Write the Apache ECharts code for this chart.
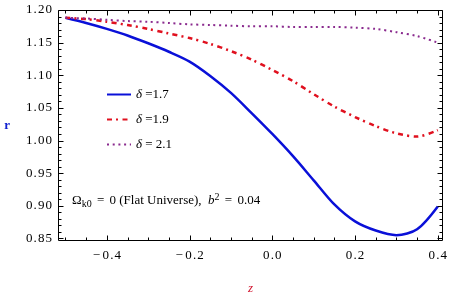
<!DOCTYPE html>
<html>
<head>
<meta charset="utf-8">
<script src="https://cdn.jsdelivr.net/npm/echarts@6/dist/echarts.min.js"></script>
<style>html,body{margin:0;padding:0;background:#fff}#c{width:450px;height:300px}</style>
</head>
<body>
<div id="c"></div>
<script>
// ---- data ----
const zValues = [-0.5, -0.45, -0.4, -0.35, -0.3, -0.25, -0.2, -0.15, -0.1, -0.05, 0.0, 0.05, 0.1, 0.15, 0.2, 0.25, 0.3, 0.35, 0.4];
const r17 = [1.188, 1.180, 1.171, 1.161, 1.149, 1.136, 1.121, 1.099, 1.073, 1.042, 1.010, 0.976, 0.939, 0.902, 0.876, 0.862, 0.855, 0.864, 0.899];
const r19 = [1.188, 1.186, 1.182, 1.177, 1.171, 1.164, 1.157, 1.148, 1.137, 1.124, 1.108, 1.091, 1.071, 1.052, 1.036, 1.022, 1.011, 1.006, 1.016];
const r21 = [1.188, 1.187, 1.185, 1.183, 1.182, 1.180, 1.178, 1.177, 1.176, 1.175, 1.175, 1.174, 1.174, 1.174, 1.173, 1.171, 1.166, 1.160, 1.150];
const seriesNames = ['δ =1.7', 'δ =1.9', 'δ = 2.1'];

const xMajorTicks = [-0.4, -0.2, 0.0, 0.2, 0.4];
const xMinorTicks = [-0.5, -0.45, -0.35, -0.3, -0.25, -0.15, -0.1, -0.05, 0.05, 0.1, 0.15, 0.25, 0.3, 0.35];
const yMajorTicks = [0.85, 0.90, 0.95, 1.00, 1.05, 1.10, 1.15, 1.20];
const yMinorTicks = [0.86, 0.87, 0.88, 0.89, 0.91, 0.92, 0.93, 0.94, 0.96, 0.97, 0.98, 0.99,
                     1.01, 1.02, 1.03, 1.04, 1.06, 1.07, 1.08, 1.09, 1.11, 1.12, 1.13, 1.14,
                     1.16, 1.17, 1.18, 1.19];

const X_MIN = -0.518, X_MAX = 0.413, Y_MIN = 0.846, Y_MAX = 1.2;
const SERIF = '"Liberation Serif", "DejaVu Serif", serif';
const HS = '\u200A', TS = '\u2009';

function pairs(ys) { return zValues.map((z, i) => [z, ys[i]]); }
function spaced(s) { return s.split('').join(HS).replace('-' + HS, '−' + TS); }

// frame + inward ticks drawn through the axes' own scales (api.coord)
function renderFrame(params, api) {
  const children = [];
  const st = { stroke: '#000', lineWidth: 1, fill: null };
  const c = (x, y) => api.coord([x, y]);
  const bl = c(X_MIN, Y_MIN), tr = c(X_MAX, Y_MAX);
  const L = Math.round(bl[0]) + 0.5, B = Math.round(bl[1]) - 0.5, R = Math.round(tr[0]) - 0.5, T = Math.round(tr[1]) + 0.5;
  const seg = (x1, y1, x2, y2) => children.push({ type: 'line', shape: { x1: x1, y1: y1, x2: x2, y2: y2 }, style: st });
  seg(L, T, R, T); seg(R, T, R, B); seg(R, B, L, B); seg(L, B, L, T);
  const xt = (vals, len) => vals.forEach(v => {
    const x = Math.round(c(v, Y_MIN)[0]) + 0.5; seg(x, B, x, B - len); seg(x, T, x, T + len);
  });
  const yt = (vals, len) => vals.forEach(v => {
    const y = Math.round(c(X_MIN, v)[1]) + 0.5; seg(L, y, L + len, y); seg(R, y, R - len, y);
  });
  xt(xMajorTicks, 5); xt(xMinorTicks, 3); yt(yMajorTicks, 5); yt(yMinorTicks, 3);
  return { type: 'group', children: children };
}

const chart = echarts.init(document.getElementById('c'));
chart.setOption({
  animation: false,
  grid: { left: 58, top: 10, right: 5, bottom: 51, containLabel: false },
  xAxis: {
    type: 'value', min: X_MIN, max: X_MAX,
    axisLine: { show: false }, axisTick: { show: false }, splitLine: { show: false },
    axisLabel: { customValues: xMajorTicks, margin: 8, color: '#000', fontSize: 13, fontFamily: SERIF,
      formatter: v => spaced(v.toFixed(1)) },
    name: 'z', nameLocation: 'middle', nameGap: 41,
    nameTextStyle: { color: '#d0102a', fontStyle: 'italic', fontSize: 13, fontFamily: SERIF }
  },
  yAxis: {
    type: 'value', min: Y_MIN, max: Y_MAX,
    axisLine: { show: false }, axisTick: { show: false }, splitLine: { show: false },
    axisLabel: { customValues: yMajorTicks, margin: 6, color: '#000', fontSize: 13, fontFamily: SERIF,
      formatter: v => spaced(v.toFixed(2)) },
    name: 'r', nameLocation: 'middle', nameGap: 48, nameRotate: 0,
    nameTextStyle: { color: '#1020d0', fontWeight: 'bold', fontSize: 13, fontFamily: SERIF }
  },
  legend: {
    orient: 'vertical', left: 106, top: 88, padding: 0,
    itemWidth: 24, itemHeight: 12, itemGap: 12,
    data: seriesNames,
    itemStyle: { opacity: 0 },
    formatter: name => '{i|δ}{n|' + name.slice(1) + '}',
    textStyle: {
      rich: {
        i: { fontStyle: 'italic', fontSize: 13, fontFamily: SERIF, color: '#000' },
        n: { fontSize: 13, fontFamily: SERIF, color: '#000' }
      }
    }
  },
  graphic: [{
    type: 'text', left: 72, top: 192,
    style: {
      text: '{t|Ω}{s|k0}{t| }{e|=}{t| 0 (Flat Universe),  }{it|b}{p|2}{t| }{e|=}{t| 0.04}',
      rich: {
        t: { fontSize: 13, fontFamily: SERIF, fill: '#000', lineHeight: 17, verticalAlign: 'middle' },
        e: { fontSize: 13, fontFamily: SERIF, fill: '#000', lineHeight: 17, verticalAlign: 'middle', padding: [0, 2, 0, 2] },
        it: { fontSize: 13, fontFamily: SERIF, fontStyle: 'italic', fill: '#000', lineHeight: 17, verticalAlign: 'middle' },
        s: { fontSize: 10, fontFamily: SERIF, fill: '#000', lineHeight: 11, verticalAlign: 'bottom' },
        p: { fontSize: 10, fontFamily: SERIF, fill: '#000', lineHeight: 11, verticalAlign: 'top' }
      }
    }
  }],
  series: [
    {
      name: seriesNames[0], type: 'line', data: pairs(r17), smooth: 0.3, symbol: 'none',
      lineStyle: { color: '#0a10d8', width: 2.5 }, itemStyle: { color: '#0a10d8' }
    },
    {
      name: seriesNames[1], type: 'line', data: pairs(r19), smooth: 0.3, symbol: 'none',
      lineStyle: { color: '#e0101e', width: 2.5, type: [5, 4, 2, 4.5], cap: 'butt' }, itemStyle: { color: '#e0101e' }
    },
    {
      name: seriesNames[2], type: 'line', data: pairs(r21), smooth: 0.3, symbol: 'none',
      lineStyle: { color: '#8a2a8e', width: 2, type: [2, 3.7], cap: 'butt' }, itemStyle: { color: '#8a2a8e' }
    },
    {
      name: 'frame', type: 'custom', data: [[X_MIN, Y_MIN]], renderItem: renderFrame,
      clip: false, silent: true, z: 10, legendHoverLink: false, tooltip: { show: false }
    }
  ]
});
</script>
</body>
</html>
